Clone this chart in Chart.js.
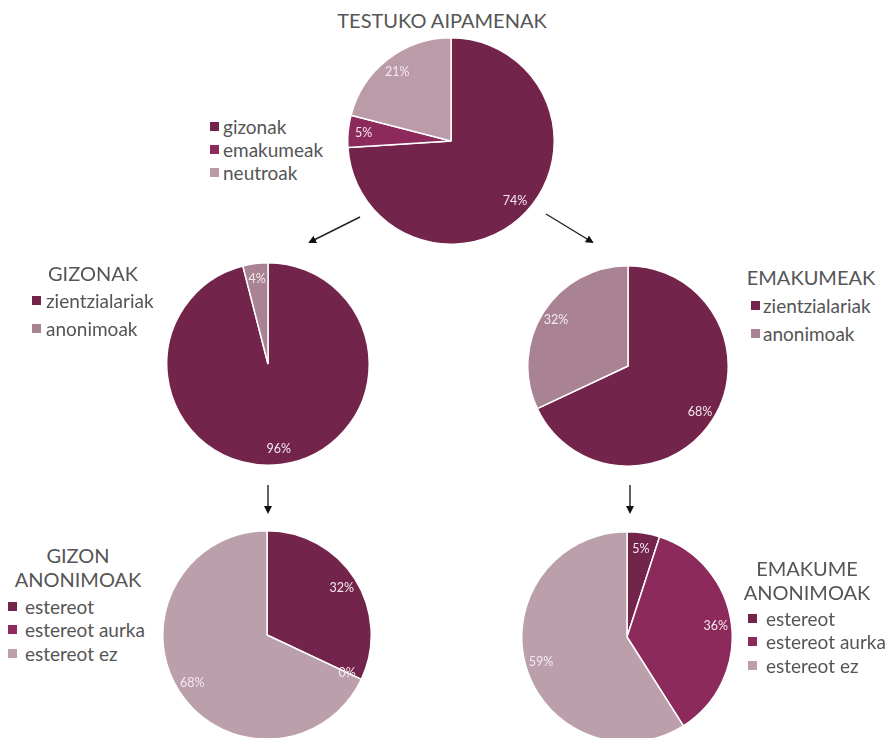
<!DOCTYPE html>
<html>
<head>
<meta charset="utf-8">
<script src="https://cdn.jsdelivr.net/npm/chart.js@4/dist/chart.umd.min.js"></script>
<style>
  html, body { margin: 0; padding: 0; background: #fff; width: 894px; height: 738px; overflow: hidden; }
  body { position: relative; font-family: Lato, "Open Sans", sans-serif; color: #555; }
  .pie { position: absolute; }
  .title { position: absolute; font-size: 20px; color: #555; white-space: nowrap; text-align: center; line-height: 24px; }
  .legend { position: absolute; font-size: 19px; color: #555; white-space: nowrap; }
  .row { position: absolute; left: 0; display: flex; align-items: center; height: 22px; }
  .sw { width: 9px; height: 9px; }
  svg { position: absolute; left: 0; top: 0; }
</style>
</head>
<body>
<svg width="894" height="738" id="arrows">
  <defs>
    <marker id="ah" markerWidth="8" markerHeight="8" refX="6" refY="4" orient="auto" markerUnits="userSpaceOnUse">
      <path d="M0,0 L8,4 L0,8 z" fill="#111"/>
    </marker>
  </defs>
  <line x1="360" y1="217" x2="310" y2="242" stroke="#222" stroke-width="1.4" marker-end="url(#ah)"/>
  <line x1="546" y1="214" x2="592" y2="242" stroke="#222" stroke-width="1.4" marker-end="url(#ah)"/>
  <line x1="268" y1="485" x2="268" y2="512" stroke="#222" stroke-width="1.4" marker-end="url(#ah)"/>
  <line x1="630" y1="485" x2="630" y2="512" stroke="#222" stroke-width="1.4" marker-end="url(#ah)"/>
</svg>
<script>
// ---- data ----
const topTitle = ['TESTUKO AIPAMENAK'];
const topLabels = ['gizonak', 'emakumeak', 'neutroak'];
const topValues = [74, 5, 21];

const menTitle = ['GIZONAK'];
const womenTitle = ['EMAKUMEAK'];
const splitLabels = ['zientzialariak', 'anonimoak'];
const menValues = [96, 4];
const womenValues = [68, 32];

const anonMenTitle = ['GIZON', 'ANONIMOAK'];
const anonWomenTitle = ['EMAKUME', 'ANONIMOAK'];
const stereoLabels = ['estereot', 'estereot aurka', 'estereot ez'];
const anonMenValues = [32, 0, 68];
const anonWomenValues = [5, 36, 59];

// ---- styles ----
const DARK = '#72244b', MID = '#8c2a5c', LIGHT = '#bc9ba9', ANON = '#a98393', EZ = '#bb9fab';

const charts = [
  { title: topTitle, labels: topLabels, values: topValues, colors: [DARK, MID, LIGHT],
    cx: 451, cy: 141, r: 103,
    titlePos: { x: 442, y: 8, w: 300 }, legendPos: { x: 210, y: 115, dy: 23, gap: 4 } },
  { title: menTitle, labels: splitLabels, values: menValues, colors: [DARK, ANON],
    cx: 268, cy: 364, r: 101,
    titlePos: { x: 93, y: 261, w: 160 }, legendPos: { x: 32, y: 289, dy: 28, gap: 5 } },
  { title: womenTitle, labels: splitLabels, values: womenValues, colors: [DARK, ANON],
    cx: 628, cy: 366, r: 100,
    titlePos: { x: 811, y: 265, w: 160 }, legendPos: { x: 751, y: 294, dy: 28, gap: 3 } },
  { title: anonMenTitle, labels: stereoLabels, values: anonMenValues, colors: [DARK, MID, EZ],
    cx: 267, cy: 635, r: 104,
    titlePos: { x: 78, y: 543, w: 160 }, legendPos: { x: 8, y: 595, dy: 23.5, gap: 8 } },
  { title: anonWomenTitle, labels: stereoLabels, values: anonWomenValues, colors: [DARK, MID, EZ],
    cx: 627, cy: 637, r: 105,
    titlePos: { x: 807, y: 556, w: 160 }, legendPos: { x: 748, y: 607, dy: 23.5, gap: 9 } }
];

const pctLabels = {
  id: 'pctLabels',
  afterDatasetsDraw(chart) {
    const ctx = chart.ctx;
    const meta = chart.getDatasetMeta(0);
    const vals = chart.data.datasets[0].data;
    ctx.save();
    ctx.font = '12.5px Lato, sans-serif';
    ctx.fillStyle = '#f4e9ee';
    ctx.textAlign = 'center';
    ctx.textBaseline = 'middle';
    meta.data.forEach((arc, i) => {
      const p = arc.getProps(['x', 'y', 'startAngle', 'endAngle', 'outerRadius'], true);
      const mid = (p.startAngle + p.endAngle) / 2;
      const d = p.outerRadius * 0.85;
      ctx.fillText(vals[i] + '%', p.x + Math.cos(mid) * d, p.y + Math.sin(mid) * d);
    });
    ctx.restore();
  }
};

charts.forEach((c) => {
  const S = 2 * c.r + 2;
  const canvas = document.createElement('canvas');
  canvas.className = 'pie';
  canvas.width = S; canvas.height = S;
  canvas.style.left = (c.cx - S / 2) + 'px';
  canvas.style.top = (c.cy - S / 2) + 'px';
  canvas.style.width = S + 'px'; canvas.style.height = S + 'px';
  document.body.appendChild(canvas);
  new Chart(canvas, {
    type: 'pie',
    data: { labels: c.labels, datasets: [{ data: c.values, backgroundColor: c.colors, borderColor: '#ffffff', borderWidth: 1.5 }] },
    options: {
      responsive: false, animation: false, events: [],
      layout: { padding: 0 },
      plugins: { legend: { display: false }, tooltip: { enabled: false }, title: { display: false } }
    },
    plugins: [pctLabels]
  });

  const t = document.createElement('div');
  t.className = 'title';
  t.style.left = (c.titlePos.x - c.titlePos.w / 2) + 'px';
  t.style.top = c.titlePos.y + 'px';
  t.style.width = c.titlePos.w + 'px';
  t.innerHTML = c.title.join('<br>');
  document.body.appendChild(t);

  const lg = document.createElement('div');
  lg.className = 'legend';
  lg.style.left = c.legendPos.x + 'px';
  lg.style.top = c.legendPos.y + 'px';
  c.labels.forEach((lab, i) => {
    const row = document.createElement('div');
    row.className = 'row';
    row.style.top = (i * c.legendPos.dy) + 'px';
    const sw = document.createElement('span');
    sw.className = 'sw';
    sw.style.background = c.colors[i];
    sw.style.marginRight = c.legendPos.gap + 'px';
    const tx = document.createElement('span');
    tx.textContent = lab;
    row.appendChild(sw); row.appendChild(tx);
    lg.appendChild(row);
  });
  document.body.appendChild(lg);
});
</script>
</body>
</html>
